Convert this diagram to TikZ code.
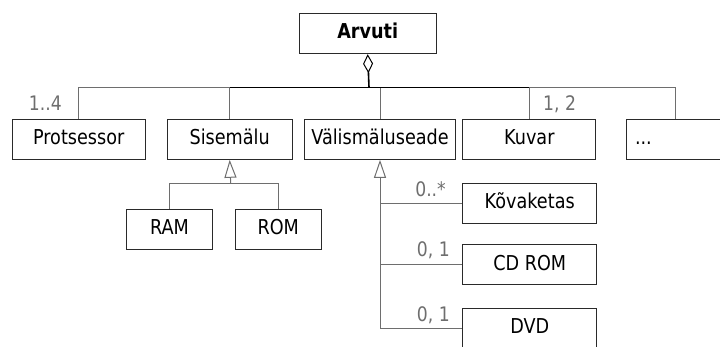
\documentclass[tikz,border=0pt]{standalone}
\usepackage{fontspec}
\setmainfont{DejaVu Sans}[FakeStretch=0.86]
\usetikzlibrary{arrows.meta}
\definecolor{linegray}{HTML}{6E6E6E}
\definecolor{boxline}{HTML}{2A2A2A}
\tikzset{
  cls/.style={draw=boxline, line width=1pt, fill=white, inner sep=0pt,
    minimum height=40pt, text height=14.5pt, text depth=4pt,
    font=\fontsize{20.5}{23}\selectfont},
  mult/.style={text=linegray, inner sep=0pt, font=\fontsize{20}{23}\selectfont},
  conn/.style={draw=linegray, line width=1pt},
  busmid/.style={draw=black, line width=1pt},
  agg/.style={draw=black, line width=1.6pt,
    {Diamond[open, length=19pt, width=10pt, line width=1pt]}-},
  gen/.style={draw=linegray, line width=1pt,
    {Triangle[open, length=18pt, width=12pt, line width=1pt]}-},
}
\begin{document}
\begin{tikzpicture}[x=1pt, y=-1pt]
  \useasboundingbox (0,0) rectangle (720,347);
  \clip (0,0) rectangle (720,347);

  % classes
  \node[cls, minimum width=136.7pt, font=\fontsize{20.5}{23}\selectfont\bfseries] (arv) at (367.7,33.7) {Arvuti};
  \node[cls, minimum width=132.7pt] (prot) at (78.7,139.3) {Protsessor};
  \node[cls, minimum width=124.7pt] (sise) at (229.7,139.3) {Sisemälu};
  \node[cls, minimum width=151.4pt] (valis) at (380,139.3) {Välismäluseade};
  \node[cls, minimum width=133.3pt] (kuvar) at (529.3,139.3) {Kuvar};
  \node[cls, text width=80pt, inner xsep=8.3pt, align=left] (dots) at (675,139.3) {...};
  \node[cls, minimum width=85.6pt] (ram) at (169.5,229.7) {RAM};
  \node[cls, minimum width=85.7pt] (rom) at (278.2,229.7) {ROM};
  \node[cls, minimum width=134pt] (kov) at (529.7,203.7) {Kõvaketas};
  \node[cls, minimum width=134pt] (cd) at (529.7,265) {CD ROM};
  \node[cls, minimum width=134pt] (dvd) at (529.7,328.3) {DVD};

  % junction points
  \coordinate (hub) at (369,87.3);
  \coordinate (sgen) at (230.7,183.3);

  % aggregation bus
  \draw[conn] (prot.north) |- (hub);
  \draw[conn] (dots.north) |- (hub);
  \draw[conn] (sise.north) -- (sise.north |- hub);
  \draw[conn] (valis.north) -- (valis.north |- hub);
  \draw[conn] (kuvar.north) -- (kuvar.north |- hub);
  \draw[busmid] (sise.north |- hub) -- (kuvar.north |- hub);
  \draw[agg] (arv.south) -- (hub);

  % internal memory kinds
  \draw[gen] (sise.south) -- (sgen);
  \draw[conn] (ram.north) |- (sgen);
  \draw[conn] (rom.north) |- (sgen);

  % external storage devices
  \draw[gen] (valis.south) |- (dvd.west);
  \draw[conn] (kov.west) -- (kov.west -| valis.south);
  \draw[conn] (cd.west) -- (cd.west -| valis.south);

  % multiplicities
  \node[mult, anchor=base east] (m14) at (62,110.7) {1..4};
  \node[mult, anchor=base west] (m12) at (543,111) {1, 2};
  \node[mult, anchor=base east] (mkov) at (446,196.7) {0..*};
  \node[mult, anchor=base east] (mcd) at (450,257) {0, 1};
  \node[mult, anchor=base east] (mdvd) at (450,321.7) {0, 1};
\end{tikzpicture}
\end{document}
